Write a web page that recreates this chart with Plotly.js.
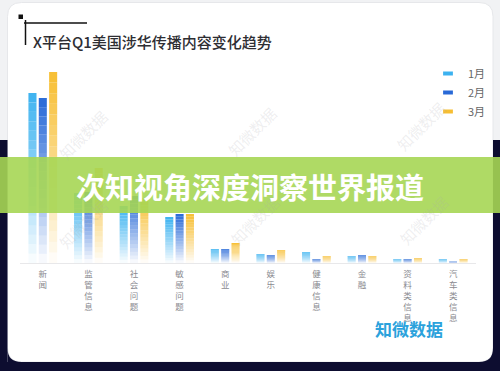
<!DOCTYPE html>
<html>
<head>
<meta charset="utf-8">
<script src="https://cdn.plot.ly/plotly-3.0.1.min.js"></script>
<style>html,body{margin:0;padding:0;background:#f1f2f4;}#chart{width:500px;height:371px;}</style>
</head>
<body>
<div id="chart"></div>
<script>
// ---- data ----
const categories = ['新闻','监管信息','社会问题','敏感问题','商业','娱乐','健康信息','金融','资料类信息','汽车类信息'];
const months = ['1月','2月','3月'];
const jan = [170, 70, 57, 46, 14, 9, 11, 7, 4, 4];
const feb = [165, 71, 67, 49, 14, 8, 4, 8, 4, 1.5];
const mar = [191, 95, 65, 49, 20, 13, 7, 7, 5, 4];
const series = [jan, feb, mar];
const monthColors = [[60,178,240],[40,105,215],[247,190,50]];
const chartTitle = 'X平台Q1美国涉华传播内容变化趋势';
const bannerText = '次知视角深度洞察世界报道';
const watermark = '知微数据';

const W = 500, H = 371;
const px = x => x / W;
const py = y => 1 - y / H;
const f = v => v.toFixed(5);
const FONT = '"Noto Sans CJK SC", "Noto Sans", sans-serif';

const tickText = categories.map(c => c.split('').join('<br>'));

const N = 18;
const traces = [];
series.forEach((vals, m) => {
  const c = monthColors[m];
  for (let k = 0; k < N; k++) {
    const a = Math.pow((k + 0.5) / N, 0.9);
    traces.push({
      type: 'bar', x: categories,
      y: vals.map(v => v / N),
      base: vals.map(v => v * k / N),
      offsetgroup: String(m), legendgroup: months[m], showlegend: false,
      marker: {color: `rgba(${c[0]},${c[1]},${c[2]},${a.toFixed(3)})`, line: {width: 0}},
      hoverinfo: 'skip'
    });
  }
});
series.forEach((vals, m) => {
  const c = monthColors[m];
  traces.push({
    type: 'scatter', mode: 'markers', x: [null], y: [null], name: months[m],
    legendgroup: months[m], showlegend: true,
    marker: {symbol: 'line-ew', size: 7, line: {width: 4, color: `rgb(${c[0]},${c[1]},${c[2]})`}, color: `rgb(${c[0]},${c[1]},${c[2]})`}
  });
});

function rr(x0, y0, x1, y1, r) {
  const rx = r / W, ry = r / H;
  const X0 = px(x0), X1 = px(x1), Y0 = py(y0), Y1 = py(y1);
  return `M${f(X0 + rx)},${f(Y0)} L${f(X1 - rx)},${f(Y0)} Q${f(X1)},${f(Y0)} ${f(X1)},${f(Y0 - ry)} ` +
         `L${f(X1)},${f(Y1 + ry)} Q${f(X1)},${f(Y1)} ${f(X1 - rx)},${f(Y1)} L${f(X0 + rx)},${f(Y1)} ` +
         `Q${f(X0)},${f(Y1)} ${f(X0)},${f(Y1 + ry)} L${f(X0)},${f(Y0 - ry)} Q${f(X0)},${f(Y0)} ${f(X0 + rx)},${f(Y0)} Z`;
}
function fillet(cx, cy, sx, sy, r) {
  const a = [cx, cy + sy * r], b = [cx + sx * r, cy];
  return `M${f(px(a[0]))},${f(py(a[1]))} Q${f(px(cx))},${f(py(cy))} ${f(px(b[0]))},${f(py(b[1]))} L${f(px(cx))},${f(py(cy))} Z`;
}
const DARK = '#0d0d30';
const R = 14;
const STRIP_TOP = 140;
const shapes = [
  {type: 'path', xref: 'paper', yref: 'paper', layer: 'below', path: rr(7.5, 2.5, 493, 362, R), fillcolor: '#ffffff', line: {width: 1, color: '#e6e7ea'}},
  {type: 'rect', xref: 'paper', yref: 'paper', layer: 'below', x0: 0, x1: px(7.5), y0: 0, y1: py(STRIP_TOP), fillcolor: DARK, line: {width: 0}},
  {type: 'rect', xref: 'paper', yref: 'paper', layer: 'below', x0: px(493), x1: 1, y0: 0, y1: py(STRIP_TOP), fillcolor: DARK, line: {width: 0}},
  {type: 'rect', xref: 'paper', yref: 'paper', layer: 'below', x0: 0, x1: 1, y0: 0, y1: py(362), fillcolor: DARK, line: {width: 0}},
  {type: 'path', xref: 'paper', yref: 'paper', layer: 'below', path: fillet(7.5, 362, 1, -1, R), fillcolor: DARK, line: {width: 0}},
  {type: 'path', xref: 'paper', yref: 'paper', layer: 'below', path: fillet(493, 362, -1, -1, R), fillcolor: DARK, line: {width: 0}},
  {type: 'rect', xref: 'paper', yref: 'paper', layer: 'above', x0: px(18.5), x1: px(23), y0: py(19), y1: py(14.5), fillcolor: '#111', line: {width: 0}},
  {type: 'line', xref: 'paper', yref: 'paper', layer: 'above', x0: px(24), x1: px(87), y0: py(23), y1: py(23), line: {width: 1.5, color: '#111'}},
  {type: 'line', xref: 'paper', yref: 'paper', layer: 'above', x0: px(25.5), x1: px(25.5), y0: py(20), y1: py(45), line: {width: 1.5, color: '#111'}},
  {type: 'rect', xref: 'paper', yref: 'paper', layer: 'above', x0: 0, x1: 1, y0: py(213), y1: py(157), fillcolor: 'rgba(166,214,84,0.9)', line: {width: 0}}
];

const wmPos = [[52,103],[252,100],[452,95],[52,255],[255,252],[455,252]];
const annotations = wmPos.map(p => ({
  xref: 'paper', yref: 'paper', x: px(p[0]), y: py(p[1]), text: watermark, showarrow: false,
  textangle: -45, font: {family: FONT, size: 15, color: 'rgba(170,170,175,0.2)'}
}));
annotations.push({
  xref: 'paper', yref: 'paper', x: px(250), y: py(186), text: bannerText, showarrow: false,
  font: {family: FONT, size: 29, color: '#ffffff', weight: 'bold'}
});
annotations.push({
  xref: 'paper', yref: 'paper', x: px(445), y: py(343), text: watermark, showarrow: false,
  font: {family: FONT, size: 17, color: '#2ba2dc', weight: 'bold'}
});

const layout = {
  width: W, height: H,
  margin: {l: 0, r: 0, t: 0, b: 0},
  paper_bgcolor: '#f1f2f4', plot_bgcolor: 'rgba(0,0,0,0)',
  font: {family: FONT},
  title: {text: chartTitle, x: px(33), xanchor: 'left', xref: 'paper', y: py(43), yanchor: 'middle', yref: 'paper',
          font: {family: FONT, size: 15, color: '#2e2e33', weight: 500}},
  barmode: 'group', bargap: 0.32, bargroupgap: 0.22,
  xaxis: {domain: [px(20), px(476)], type: 'category', showline: true, linecolor: '#e8e8ea', linewidth: 1,
          showgrid: false, ticks: '', tickvals: categories, ticktext: tickText, ticklabelstandoff: 3,
          tickfont: {family: FONT, size: 8.5, color: '#8a8a90'}, fixedrange: true},
  yaxis: {domain: [py(263), py(60)], range: [0, 203], visible: false, showgrid: false, zeroline: false, fixedrange: true},
  legend: {x: px(428), y: py(59), xanchor: 'left', yanchor: 'top', bgcolor: 'rgba(0,0,0,0)', tracegroupgap: 0,
           font: {family: FONT, size: 11, color: '#666'}, itemwidth: 30},
  shapes: shapes, annotations: annotations,
  showlegend: true
};

Plotly.newPlot('chart', traces, layout, {displayModeBar: false, staticPlot: true});
</script>
</body>
</html>
